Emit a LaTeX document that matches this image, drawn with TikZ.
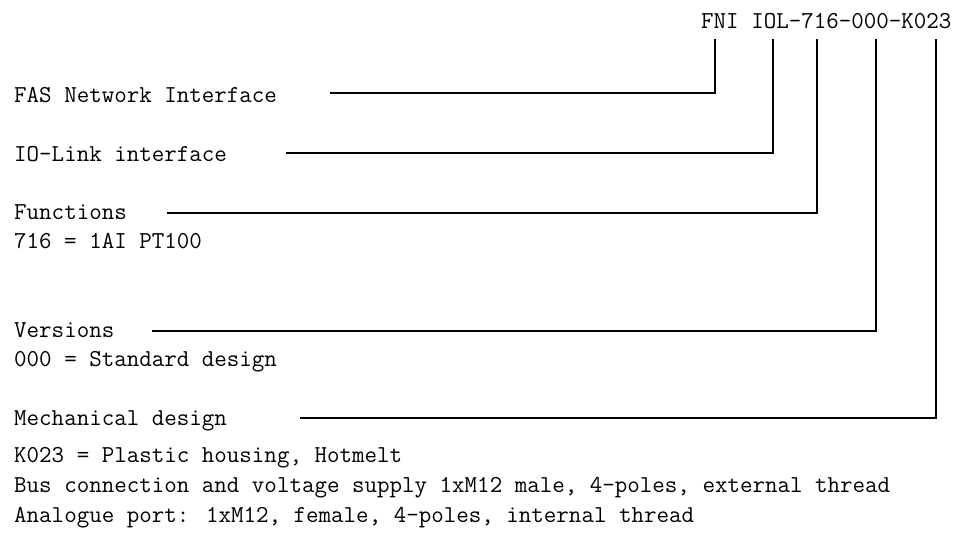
\documentclass[tikz,border=0pt]{standalone}
\begin{document}
\begin{tikzpicture}[x=1pt,y=-1pt,
  txt/.style={anchor=base west,inner sep=0pt,font=\fontsize{24.3}{28}\ttfamily},
  conn/.style={line width=1.6pt,line join=miter}]
\useasboundingbox (0,0) rectangle (965,533);
% code
\node[txt] (code) at (701,28) {FNI IOL-716-000-K023};
% labels
\node[txt] (l1) at (14,102) {FAS Network Interface};
\node[txt] (l2) at (14,161) {IO-Link interface};
\node[txt] (l3) at (14,219) {Functions};
\node[txt] (l3a) at (14,248) {716 = 1AI PT100};
\node[txt] (l4) at (14,337) {Versions};
\node[txt] (l4a) at (14,366) {000 = Standard design};
\node[txt] (l5) at (14,425) {Mechanical design};
\node[txt] (l5a) at (14,462) {K023 = Plastic housing, Hotmelt};
\node[txt] (l5b) at (14,492) {Bus connection and voltage supply 1xM12 male, 4-poles, external thread};
\node[txt] (l5c) at (14,522) {Analogue port: 1xM12, female, 4-poles, internal thread};
% code part anchors
\coordinate (p1) at (715,39);
\coordinate (p2) at (773,39);
\coordinate (p3) at (817,39);
\coordinate (p4) at (876,39);
\coordinate (p5) at (936,39);
% line starts
\coordinate (s1) at (330,93);
\coordinate (s2) at (286,153);
\coordinate (s3) at (167,213);
\coordinate (s4) at (152,331);
\coordinate (s5) at (300,418);
\draw[conn] (s1) -| (p1);
\draw[conn] (s2) -| (p2);
\draw[conn] (s3) -| (p3);
\draw[conn] (s4) -| (p4);
\draw[conn] (s5) -| (p5);
\end{tikzpicture}
\end{document}
